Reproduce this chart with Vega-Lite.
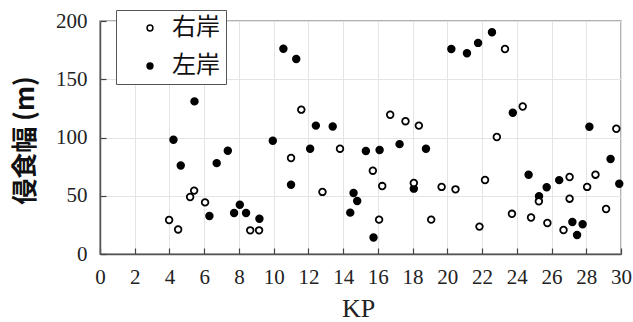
{
  "$schema": "https://vega.github.io/schema/vega-lite/v6.json",
  "width": 521,
  "height": 233,
  "autosize": {"type": "none"},
  "padding": {"left": 100, "top": 21, "right": 12, "bottom": 68},
  "background": "white",
  "config": {
    "view": {"stroke": "#999999", "strokeWidth": 1.5}
  },
  "data": {
    "values": [
      {"kp": 4.23, "width": 98, "bank": "左岸"},
      {"kp": 4.65, "width": 76, "bank": "左岸"},
      {"kp": 5.44, "width": 131, "bank": "左岸"},
      {"kp": 6.3, "width": 32.6, "bank": "左岸"},
      {"kp": 6.72, "width": 78, "bank": "左岸"},
      {"kp": 7.36, "width": 88.7, "bank": "左岸"},
      {"kp": 7.72, "width": 35.2, "bank": "左岸"},
      {"kp": 8.05, "width": 42.3, "bank": "左岸"},
      {"kp": 8.41, "width": 35.2, "bank": "左岸"},
      {"kp": 9.18, "width": 30.3, "bank": "左岸"},
      {"kp": 9.95, "width": 97.2, "bank": "左岸"},
      {"kp": 10.56, "width": 176.2, "bank": "左岸"},
      {"kp": 11.0, "width": 59.4, "bank": "左岸"},
      {"kp": 11.3, "width": 167.4, "bank": "左岸"},
      {"kp": 12.1, "width": 90.4, "bank": "左岸"},
      {"kp": 12.43, "width": 110.2, "bank": "左岸"},
      {"kp": 13.4, "width": 109.5, "bank": "左岸"},
      {"kp": 14.41, "width": 35.5, "bank": "左岸"},
      {"kp": 14.6, "width": 52.4, "bank": "左岸"},
      {"kp": 14.81, "width": 45.5, "bank": "左岸"},
      {"kp": 15.31, "width": 88.4, "bank": "左岸"},
      {"kp": 15.75, "width": 14.2, "bank": "左岸"},
      {"kp": 16.1, "width": 89.3, "bank": "左岸"},
      {"kp": 17.25, "width": 94.3, "bank": "左岸"},
      {"kp": 18.07, "width": 56.1, "bank": "左岸"},
      {"kp": 18.77, "width": 90.3, "bank": "左岸"},
      {"kp": 20.23, "width": 176, "bank": "左岸"},
      {"kp": 21.13, "width": 172.3, "bank": "左岸"},
      {"kp": 21.77, "width": 181.2, "bank": "左岸"},
      {"kp": 22.57, "width": 190.4, "bank": "左岸"},
      {"kp": 23.77, "width": 121.2, "bank": "左岸"},
      {"kp": 24.68, "width": 68.1, "bank": "左岸"},
      {"kp": 25.28, "width": 49.5, "bank": "左岸"},
      {"kp": 25.72, "width": 57.3, "bank": "左岸"},
      {"kp": 26.44, "width": 63.4, "bank": "左岸"},
      {"kp": 27.2, "width": 27.5, "bank": "左岸"},
      {"kp": 27.47, "width": 16.3, "bank": "左岸"},
      {"kp": 27.79, "width": 25.5, "bank": "左岸"},
      {"kp": 28.18, "width": 109.2, "bank": "左岸"},
      {"kp": 29.4, "width": 81.6, "bank": "左岸"},
      {"kp": 29.9, "width": 60.3, "bank": "左岸"},
      {"kp": 3.98, "width": 29.2, "bank": "右岸"},
      {"kp": 4.5, "width": 21.1, "bank": "右岸"},
      {"kp": 5.19, "width": 48.9, "bank": "右岸"},
      {"kp": 5.42, "width": 54.4, "bank": "右岸"},
      {"kp": 6.05, "width": 44.3, "bank": "右岸"},
      {"kp": 8.65, "width": 20.3, "bank": "右岸"},
      {"kp": 9.16, "width": 20.3, "bank": "右岸"},
      {"kp": 11.0, "width": 82.4, "bank": "右岸"},
      {"kp": 11.59, "width": 123.9, "bank": "右岸"},
      {"kp": 12.81, "width": 53.3, "bank": "右岸"},
      {"kp": 13.82, "width": 90.4, "bank": "右岸"},
      {"kp": 15.71, "width": 71.5, "bank": "右岸"},
      {"kp": 16.07, "width": 29.5, "bank": "右岸"},
      {"kp": 16.25, "width": 58.3, "bank": "右岸"},
      {"kp": 16.71, "width": 119.5, "bank": "右岸"},
      {"kp": 17.59, "width": 114, "bank": "右岸"},
      {"kp": 18.07, "width": 61, "bank": "右岸"},
      {"kp": 18.36, "width": 110.2, "bank": "右岸"},
      {"kp": 19.07, "width": 29.5, "bank": "右岸"},
      {"kp": 19.67, "width": 57.6, "bank": "右岸"},
      {"kp": 20.47, "width": 55.5, "bank": "右岸"},
      {"kp": 21.85, "width": 23.5, "bank": "右岸"},
      {"kp": 22.17, "width": 63.5, "bank": "右岸"},
      {"kp": 22.85, "width": 100.4, "bank": "右岸"},
      {"kp": 23.32, "width": 176, "bank": "右岸"},
      {"kp": 23.72, "width": 34.5, "bank": "右岸"},
      {"kp": 24.34, "width": 126.6, "bank": "右岸"},
      {"kp": 24.82, "width": 31.3, "bank": "右岸"},
      {"kp": 25.27, "width": 45.2, "bank": "右岸"},
      {"kp": 25.76, "width": 26.6, "bank": "右岸"},
      {"kp": 26.69, "width": 20.6, "bank": "右岸"},
      {"kp": 27.04, "width": 47.5, "bank": "右岸"},
      {"kp": 27.04, "width": 66.1, "bank": "右岸"},
      {"kp": 28.05, "width": 57.6, "bank": "右岸"},
      {"kp": 28.53, "width": 68.1, "bank": "右岸"},
      {"kp": 29.14, "width": 38.6, "bank": "右岸"},
      {"kp": 29.73, "width": 107.5, "bank": "右岸"}
    ]
  },
  "mark": {
    "type": "point",
    "shape": "circle",
    "filled": true,
    "stroke": "black",
    "strokeWidth": 1.8,
    "size": 44,
    "opacity": 1
  },
  "encoding": {
    "x": {
      "field": "kp",
      "type": "quantitative",
      "scale": {"domain": [0, 30], "nice": false, "zero": false},
      "axis": {
        "values": [0, 2, 4, 6, 8, 10, 12, 14, 16, 18, 20, 22, 24, 26, 28, 30],
        "grid": true,
        "gridColor": "#e4e4e4",
        "gridWidth": 1,
        "domainColor": "#555555",
        "domainWidth": 1.5,
        "tickColor": "#444444",
        "tickWidth": 1.2,
        "tickSize": -6,
        "labelFont": "Liberation Serif",
        "labelFontSize": 21,
        "labelColor": "#222222",
        "labelPadding": 18,
        "labelFlush": false,
        "labelOverlap": false,
        "title": "KP",
        "titleFont": "Liberation Serif",
        "titleFontSize": 26,
        "titleFontWeight": "normal",
        "titleColor": "#222222",
        "titleX": 258,
        "titleY": 62,
        "titleBaseline": "alphabetic",
        "titleAlign": "center"
      }
    },
    "y": {
      "field": "width",
      "type": "quantitative",
      "scale": {"domain": [0, 200], "nice": false},
      "axis": {
        "values": [0, 50, 100, 150, 200],
        "grid": true,
        "gridColor": "#e4e4e4",
        "gridWidth": 1,
        "domainColor": "#555555",
        "domainWidth": 1.5,
        "tickColor": "#444444",
        "tickWidth": 1.2,
        "tickSize": -6,
        "labelFont": "Liberation Serif",
        "labelFontSize": 21,
        "labelColor": "#222222",
        "labelPadding": 19,
        "labelFlush": false,
        "labelOverlap": false,
        "title": "侵食幅 (m)",
        "titleFont": "Noto Sans CJK JP",
        "titleFontSize": 26,
        "titleFontWeight": "bold",
        "titleColor": "#111111",
        "titleAngle": -90,
        "titleX": -75,
        "titleY": 119,
        "titleAlign": "center",
        "titleBaseline": "middle"
      }
    },
    "fill": {
      "field": "bank",
      "type": "nominal",
      "scale": {"domain": ["右岸", "左岸"], "range": ["white", "black"]},
      "legend": {
        "title": null,
        "orient": "none",
        "legendX": 16,
        "legendY": -11,
        "fillColor": "white",
        "strokeColor": "#555555",
        "padding": 6,
        "rowPadding": 14,
        "symbolType": "circle",
        "symbolSize": 34,
        "symbolStrokeColor": "black",
        "symbolStrokeWidth": 1.5,
        "symbolOffset": 16,
        "labelOffset": 10,
        "labelExpr": "datum.label + '  '",
        "labelFont": "Noto Sans CJK JP",
        "labelFontSize": 24,
        "labelLimit": 200,
        "labelColor": "#111111"
      }
    }
  }
}
